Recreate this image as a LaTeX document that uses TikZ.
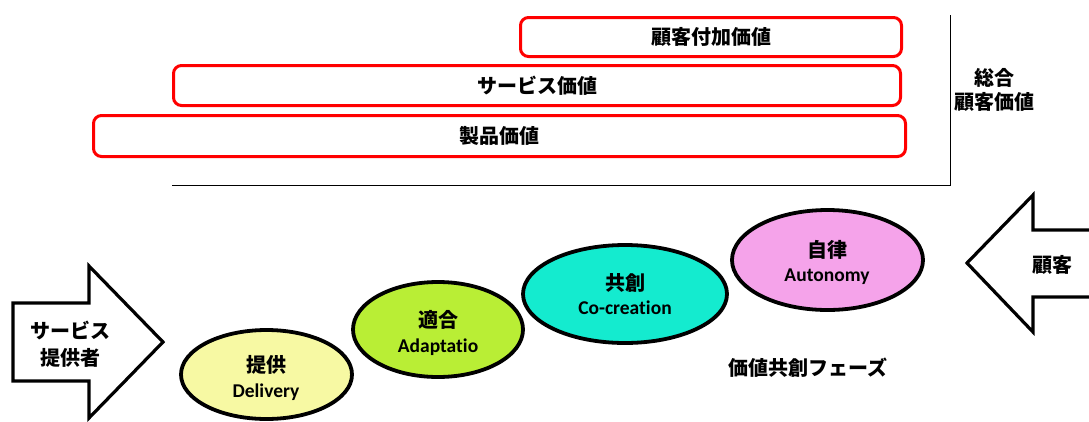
\documentclass[tikz,border=0pt]{standalone}
\usepackage{fontspec}
\newfontfamily\jp{Noto Sans CJK JP}
\newfontfamily\lat{Carlito}[Ligatures={NoCommon}]
\usetikzlibrary{shapes.geometric}
\definecolor{cDel}{HTML}{F7F9A3}
\definecolor{cAda}{HTML}{B9EE35}
\definecolor{cCo}{HTML}{14EBCF}
\definecolor{cAut}{HTML}{F5A3EA}
\begin{document}
\begin{tikzpicture}[x=1pt,y=-1pt,
 valbox/.style={draw=red, line width=3pt, rounded corners=8pt, inner sep=0},
 jtxt/.style={font=\jp\bfseries\fontsize{20}{22}\selectfont, inner sep=0},
 ltxt/.style={font=\lat\bfseries\fontsize{19.5}{22}\selectfont, inner sep=0},
 phase/.style={ellipse, draw=black, line width=3.8pt, inner sep=0},
 bigarrow/.style={draw=black, line width=3.2pt, fill=white, line join=miter}
]
\useasboundingbox (0,0) rectangle (1089,421);
\clip (0,0) rectangle (1089,421);

% value boxes
\node[valbox, minimum width=381pt, minimum height=39pt] (b1) at (711,37) {};
\node[valbox, minimum width=727pt, minimum height=40pt] (b2) at (537,85.5) {};
\node[valbox, minimum width=812pt, minimum height=41pt] (b3) at (499.5,136) {};
\node[jtxt] (t1) at (b1.center) {顧客付加価値};
\node[jtxt] (t2) at (b2.center) {サービス価値};
\node[jtxt] (t3) at (b3.center) {製品価値};

% axes
\coordinate (ax0) at (172,185);
\coordinate (ax1) at (950,185);
\coordinate (ax2) at (950,15);
\draw[line width=1pt] (ax0) -- (ax1) -- (ax2);
\node[jtxt] (tot1) at (994,78) {総合};
\node[jtxt] (tot2) at (994,102) {顧客価値};

% provider arrow
\draw[bigarrow] (13,303) -- (89,303) -- (89,266) -- (163,342) -- (89,418) -- (89,381) -- (13,381) -- cycle;
\node[jtxt] (p1) at (70,330) {サービス};
\node[jtxt] (p2) at (70,358) {提供者};

% customer arrow
\draw[bigarrow] (1100,230) -- (1033,230) -- (1033,195) -- (967,263) -- (1033,332) -- (1033,297) -- (1100,297);
\node[jtxt] (c1) at (1052,265) {顧客};

% phases
\node[phase, fill=cDel, minimum width=171pt, minimum height=89pt] (e1) at (266.5,374.5) {};
\node[phase, fill=cAda, minimum width=170pt, minimum height=95pt] (e2) at (438,329.5) {};
\node[phase, fill=cCo, minimum width=204pt, minimum height=98pt] (e3) at (625,294) {};
\node[phase, fill=cAut, minimum width=191pt, minimum height=100pt] (e4) at (827.5,260) {};

\node[jtxt] (e1a) at (266,365) {提供};
\node[ltxt] (e1b) at (266,392) {Delivery};
\node[jtxt] (e2a) at (438,320) {適合};
\node[ltxt] (e2b) at (438,347) {Adaptatio};
\node[jtxt] (e3a) at (625,283) {共創};
\node[ltxt] (e3b) at (625,308) {Co-creation};
\node[jtxt] (e4a) at (827,250) {自律};
\node[ltxt] (e4b) at (827,277) {Autonomy};

\node[jtxt] (ph) at (808,368) {価値共創フェーズ};
\end{tikzpicture}
\end{document}
